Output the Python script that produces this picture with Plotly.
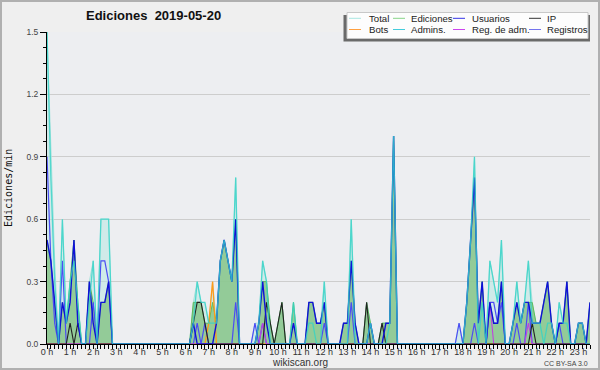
import plotly.graph_objects as go

# Edits counted per 10-minute slot on 2019-05-20 (slots 00:00 ... 23:30), one row per hour
total = [
    15, 9, 4, 0, 6, 1,    # 0 h
    3, 5, 2, 0, 0, 3,     # 1 h
    4, 0, 6, 6, 6, 0,     # 2 h
    0, 0, 0, 0, 0, 0,     # 3 h
    0, 0, 0, 0, 0, 0,     # 4 h
    0, 0, 0, 0, 0, 0,     # 5 h
    0, 0, 2, 3, 2, 2,     # 6 h
    1, 3, 1, 4, 5, 4,     # 7 h
    3, 8, 0, 0, 0, 0,     # 8 h
    1, 1, 4, 3, 1, 0,     # 9 h
    1, 2, 0, 0, 2, 0,     # 10 h
    0, 0, 2, 2, 1, 1,     # 11 h
    3, 0, 0, 0, 0, 1,     # 12 h
    1, 6, 1, 0, 0, 2,     # 13 h
    1, 0, 0, 1, 1, 1,     # 14 h
    10, 0, 0, 0, 0, 0,    # 15 h
    0, 0, 0, 0, 0, 0,     # 16 h
    0, 0, 0, 0, 0, 1,     # 17 h
    0, 2, 5, 9, 1, 3,     # 18 h
    0, 4, 3, 2, 5, 0,     # 19 h
    0, 1, 3, 1, 2, 4,     # 20 h
    2, 1, 1, 2, 3, 1,     # 21 h
    0, 2, 1, 3, 0, 0,     # 22 h
    1, 1, 0, 2,           # 23 h
]
ediciones = [
    5, 4, 2, 0, 2, 1,
    3, 5, 2, 0, 0, 3,
    2, 0, 2, 2, 3, 0,
    0, 0, 0, 0, 0, 0,
    0, 0, 0, 0, 0, 0,
    0, 0, 0, 0, 0, 0,
    0, 0, 2, 2, 2, 1,
    1, 2, 1, 4, 5, 4,
    3, 6, 0, 0, 0, 0,
    0, 1, 3, 3, 1, 0,
    1, 2, 0, 0, 2, 0,
    0, 0, 2, 2, 1, 1,
    2, 0, 0, 0, 0, 1,
    1, 4, 1, 0, 0, 2,
    1, 0, 0, 1, 1, 1,
    10, 0, 0, 0, 0, 0,
    0, 0, 0, 0, 0, 0,
    0, 0, 0, 0, 0, 0,
    0, 2, 5, 8, 1, 3,
    0, 2, 1, 1, 3, 0,
    0, 1, 2, 1, 2, 2,
    2, 1, 1, 2, 3, 1,
    0, 1, 1, 3, 0, 0,
    1, 1, 0, 2,
]
usuarios = [
    5, 4, 2, 0, 2, 1,
    2, 5, 1, 0, 0, 3,
    1, 0, 2, 2, 3, 0,
    0, 0, 0, 0, 0, 0,
    0, 0, 0, 0, 0, 0,
    0, 0, 0, 0, 0, 0,
    0, 0, 1, 0, 0, 0,
    0, 0, 1, 4, 5, 4,
    3, 6, 0, 0, 0, 0,
    0, 1, 3, 1, 0, 0,
    0, 0, 0, 0, 1, 0,
    0, 0, 2, 2, 1, 1,
    2, 0, 0, 0, 0, 1,
    1, 4, 1, 0, 0, 0,
    1, 0, 0, 0, 1, 1,
    10, 0, 0, 0, 0, 0,
    0, 0, 0, 0, 0, 0,
    0, 0, 0, 0, 0, 0,
    0, 2, 5, 8, 1, 3,
    0, 2, 1, 1, 3, 0,
    0, 1, 2, 1, 2, 2,
    1, 1, 1, 2, 3, 1,
    0, 1, 1, 3, 0, 0,
    1, 1, 0, 2,
]
ip = [
    0, 0, 0, 0, 0, 0,
    1, 0, 1, 0, 0, 0,
    0, 0, 0, 0, 0, 0,
    0, 0, 0, 0, 0, 0,
    0, 0, 0, 0, 0, 0,
    0, 0, 0, 0, 0, 0,
    0, 0, 1, 2, 2, 1,
    0, 0, 0, 0, 0, 0,
    0, 0, 0, 0, 0, 0,
    0, 0, 0, 2, 1, 0,
    1, 2, 0, 0, 0, 0,
    0, 0, 0, 0, 0, 0,
    0, 0, 0, 0, 0, 0,
    0, 0, 0, 0, 0, 2,
    0, 0, 0, 1, 0, 0,
    0, 0, 0, 0, 0, 0,
    0, 0, 0, 0, 0, 0,
    0, 0, 0, 0, 0, 0,
    0, 0, 0, 0, 0, 0,
    0, 0, 0, 0, 0, 0,
    0, 0, 0, 0, 0, 0,
    1, 0, 0, 0, 0, 0,
    0, 0, 0, 0, 0, 0,
    0, 0, 0, 0,
]
bots = [
    0, 0, 0, 0, 0, 0,
    0, 0, 0, 0, 0, 0,
    0, 0, 0, 0, 0, 0,
    0, 0, 0, 0, 0, 0,
    0, 0, 0, 0, 0, 0,
    0, 0, 0, 0, 0, 0,
    0, 0, 0, 0, 0, 0,
    1, 3, 0, 0, 0, 0,
    0, 0, 0, 0, 0, 0,
    0, 0, 0, 0, 0, 0,
    0, 0, 0, 0, 0, 0,
    0, 0, 0, 0, 0, 0,
    0, 0, 0, 0, 0, 0,
    0, 0, 0, 0, 0, 0,
    0, 0, 0, 0, 0, 0,
    0, 0, 0, 0, 0, 0,
    0, 0, 0, 0, 0, 0,
    0, 0, 0, 0, 0, 0,
    0, 0, 0, 0, 0, 0,
    0, 0, 0, 0, 0, 0,
    0, 0, 0, 0, 0, 0,
    0, 0, 0, 0, 0, 0,
    0, 0, 0, 0, 0, 0,
    0, 0, 0, 0,
]
admins = [
    15, 8, 3, 0, 6, 1,
    3, 4, 2, 0, 0, 2,
    4, 0, 6, 6, 6, 0,
    0, 0, 0, 0, 0, 0,
    0, 0, 0, 0, 0, 0,
    0, 0, 0, 0, 0, 0,
    0, 0, 1, 3, 2, 2,
    1, 1, 1, 4, 5, 4,
    3, 8, 0, 0, 0, 0,
    0, 1, 4, 3, 0, 0,
    0, 0, 0, 0, 2, 0,
    0, 0, 1, 1, 0, 0,
    3, 0, 0, 0, 0, 0,
    0, 6, 0, 0, 0, 0,
    1, 0, 0, 0, 0, 1,
    10, 0, 0, 0, 0, 0,
    0, 0, 0, 0, 0, 0,
    0, 0, 0, 0, 0, 0,
    0, 2, 5, 9, 0, 2,
    0, 4, 3, 2, 5, 0,
    0, 1, 3, 1, 2, 4,
    1, 1, 1, 0, 1, 1,
    0, 2, 1, 1, 0, 0,
    1, 1, 0, 0,
]
reg_adm = [
    0, 0, 0, 0, 0, 0,
    0, 0, 0, 0, 0, 0,
    0, 0, 0, 0, 0, 0,
    0, 0, 0, 0, 0, 0,
    0, 0, 0, 0, 0, 0,
    0, 0, 0, 0, 0, 0,
    0, 0, 0, 0, 0, 0,
    0, 0, 0, 0, 0, 0,
    0, 0, 0, 0, 0, 0,
    0, 0, 1, 0, 0, 0,
    0, 0, 0, 0, 0, 0,
    0, 0, 0, 0, 0, 0,
    0, 0, 0, 0, 0, 0,
    0, 0, 0, 0, 0, 0,
    0, 0, 0, 0, 0, 0,
    0, 0, 0, 0, 0, 0,
    0, 0, 0, 0, 0, 0,
    0, 0, 0, 0, 0, 0,
    0, 0, 0, 0, 0, 0,
    0, 2, 0, 0, 0, 0,
    0, 0, 0, 0, 0, 1,
    0, 0, 0, 0, 0, 0,
    0, 0, 0, 0, 0, 0,
    0, 0, 0, 0,
]
registros = [
    9, 4, 1, 0, 4, 0,
    0, 0, 0, 0, 0, 0,
    2, 0, 4, 4, 3, 0,
    0, 0, 0, 0, 0, 0,
    0, 0, 0, 0, 0, 0,
    0, 0, 0, 0, 0, 0,
    0, 0, 0, 1, 0, 1,
    0, 0, 0, 0, 0, 0,
    0, 2, 0, 0, 0, 0,
    1, 0, 1, 0, 0, 0,
    0, 0, 0, 0, 0, 0,
    0, 0, 0, 0, 0, 0,
    1, 0, 0, 0, 0, 0,
    0, 2, 0, 0, 0, 0,
    0, 0, 0, 0, 0, 0,
    0, 0, 0, 0, 0, 0,
    0, 0, 0, 0, 0, 0,
    0, 0, 0, 0, 0, 1,
    0, 0, 0, 1, 0, 0,
    0, 2, 2, 1, 2, 0,
    0, 0, 1, 0, 0, 2,
    0, 0, 0, 0, 0, 0,
    0, 1, 0, 0, 0, 0,
    0, 0, 0, 0,
]

hour_labels = [f"{h} h" for h in range(24)]
y_ticks = [0.0, 0.3, 0.6, 0.9, 1.2, 1.5]
y_labels = ["0.0", "0.3", "0.6", "0.9", "1.2", "1.5"]

n = len(total)
slots = list(range(n))          # 10-minute slot index
def per_min(v):                  # edits per 10 min -> edits per minute
    return [c / 10 for c in v]

fig = go.Figure()
fig.add_trace(go.Scatter(x=slots, y=per_min(total), mode="lines", fill="tozeroy",
                         fillcolor="rgba(184,232,226,0.55)", line=dict(color="#a6e2dc", width=1)))
fig.add_trace(go.Scatter(x=slots, y=per_min(ediciones), mode="lines", fill="tozeroy",
                         fillcolor="rgba(136,198,138,0.85)", line=dict(color="#5cbc5c", width=1)))
fig.add_trace(go.Scatter(x=slots, y=per_min(bots), mode="lines", line=dict(color="#ff9a1a", width=1.3)))
fig.add_trace(go.Scatter(x=slots, y=per_min(registros), mode="lines", line=dict(color="#4c4cf4", width=1.2)))
fig.add_trace(go.Scatter(x=slots, y=per_min(reg_adm), mode="lines", line=dict(color="#c040e0", width=1.1)))
fig.add_trace(go.Scatter(x=slots, y=per_min(ip), mode="lines", line=dict(color="#222222", width=1.1)))
fig.add_trace(go.Scatter(x=slots, y=per_min(usuarios), mode="lines", line=dict(color="#1010d8", width=1.4)))
fig.add_trace(go.Scatter(x=slots, y=per_min(admins), mode="lines", opacity=0.8,
                         line=dict(color="#34d4c8", width=1.3)))

L, R, T, B = 47, 590, 32, 344
W, H = R - L, B - T
def px(x):
    return (x - L) / W
def py(y):
    return (B - y) / H

shapes = [
    # outer border
    dict(type="rect", xref="paper", yref="paper", x0=px(1), x1=px(599), y0=py(369), y1=py(1),
         line=dict(color="#b0b0b0", width=2), fillcolor="rgba(0,0,0,0)", layer="above"),
    # legend shadow + box
    dict(type="rect", xref="paper", yref="paper", x0=px(343.5), x1=px(590), y0=py(41.5), y1=py(15),
         line=dict(width=0), fillcolor="#6a6a6a", layer="above"),
    dict(type="rect", xref="paper", yref="paper", x0=px(347), x1=px(588), y0=py(38.5), y1=py(12.5),
         line=dict(color="#c8c8c8", width=1), fillcolor="#fdfdfd", layer="above"),
]
annotations = [
    dict(text="<b>Ediciones  2019-05-20</b>", xref="paper", yref="paper", x=px(153), y=py(16),
         xanchor="center", yanchor="middle", showarrow=False,
         font=dict(family="Liberation Sans", size=13, color="#111")),
    dict(text="Ediciones/min", xref="paper", yref="paper", x=px(8), y=py(188), textangle=-90,
         xanchor="center", yanchor="middle", showarrow=False,
         font=dict(family="DejaVu Sans Mono", size=10, color="#111")),
    dict(text="wikiscan.org", xref="paper", yref="paper", x=px(300), y=py(362.5),
         xanchor="center", yanchor="middle", showarrow=False,
         font=dict(family="Liberation Sans", size=10, color="#333")),
    dict(text="CC BY-SA 3.0", xref="paper", yref="paper", x=px(590), y=py(363),
         xanchor="right", yanchor="middle", showarrow=False,
         font=dict(family="Liberation Sans", size=7, color="#444")),
]

legend_items = [
    ("Total", "#a8e6e2", 349, 361, 366.5, 18.3),
    ("Ediciones", "#88d488", 393, 405, 408.5, 18.3),
    ("Usuarios", "#3434e8", 453, 465, 469.5, 18.3),
    ("IP", "#333333", 529, 541, 545, 18.3),
    ("Bots", "#ffa040", 349, 361, 366.5, 29.5),
    ("Admins.", "#44ccdc", 393, 405, 408.5, 29.5),
    ("Reg. de adm.", "#cc44ee", 453, 465, 469.5, 29.5),
    ("Registros", "#7474ee", 529, 541, 545, 29.5),
]
for name, col, sx0, sx1, tx, yy in legend_items:
    shapes.append(dict(type="line", xref="paper", yref="paper", x0=px(sx0), x1=px(sx1),
                       y0=py(yy), y1=py(yy), line=dict(color=col, width=1), layer="above"))
    annotations.append(dict(text=name, xref="paper", yref="paper", x=px(tx), y=py(yy),
                            xanchor="left", yanchor="middle", showarrow=False,
                            font=dict(family="Liberation Sans", size=9.6, color="#222")))

fig.update_layout(
    width=600, height=370,
    margin=dict(l=L, r=600 - R, t=T, b=370 - B, pad=0, autoexpand=False),
    paper_bgcolor="#efefef", plot_bgcolor="#edeef1",
    showlegend=False,
    font=dict(family="Liberation Sans", color="#333"),
    shapes=shapes, annotations=annotations,
    xaxis=dict(range=[0, n - 1], tickvals=[6 * h for h in range(24)], ticktext=hour_labels,
               ticks="outside", ticklen=4, tickcolor="#000", tickwidth=1,
               ticklabelstandoff=-5,
               showline=True, linecolor="#000", linewidth=1, showgrid=False, zeroline=False,
               tickfont=dict(size=9, color="#333"),
               minor=dict(ticks="outside", dtick=1, tick0=0, ticklen=4, tickcolor="#000", showgrid=False)),
    yaxis=dict(range=[0, 1.5], tickvals=y_ticks, ticktext=y_labels,
               ticks="outside", ticklen=6, tickcolor="#000", tickwidth=1,
               showline=True, linecolor="#000", linewidth=1,
               showgrid=True, gridcolor="#cdcdcd", gridwidth=1, zeroline=False,
               tickfont=dict(size=8.5, color="#444"),
               minor=dict(ticks="outside", dtick=0.075, tick0=0, ticklen=3, tickcolor="#000", showgrid=False)),
)

fig.write_html("out.html", config={"displayModeBar": False},
               post_script="document.body.style.margin='0';document.body.style.padding='0';")
